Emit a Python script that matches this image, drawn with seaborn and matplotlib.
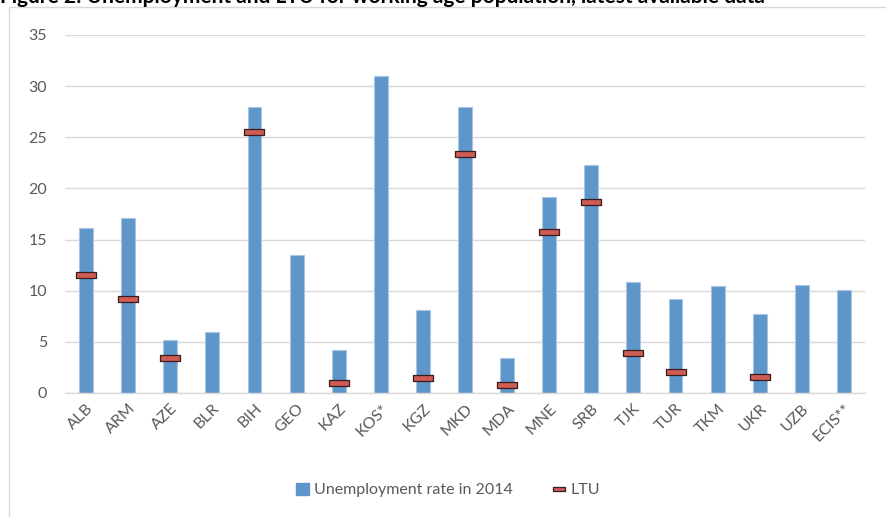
import matplotlib
matplotlib.use("Agg")
import matplotlib.pyplot as plt
import matplotlib.patches as mpatches
from matplotlib.lines import Line2D
import seaborn as sns
import pandas as pd
import numpy as np

# values
countries = ["ALB", "ARM", "AZE", "BLR", "BIH", "GEO", "KAZ", "KOS*", "KGZ", "MKD",
             "MDA", "MNE", "SRB", "TJK", "TUR", "TKM", "UKR", "UZB", "ECIS**"]
unemployment = [16.1, 17.1, 5.2, 6.0, 28.0, 13.5, 4.2, 31.0, 8.1, 28.0,
                3.4, 19.2, 22.3, 10.9, 9.2, 10.5, 7.7, 10.6, 10.1]
ltu = [11.5, 9.2, 3.4, np.nan, 25.5, np.nan, 1.0, np.nan, 1.5, 23.4,
       0.8, 15.7, 18.7, 3.9, 2.1, np.nan, 1.6, np.nan, np.nan]
yticks = [0, 5, 10, 15, 20, 25, 30, 35]

df = pd.DataFrame({"country": countries, "unemp": unemployment, "ltu": ltu})

sns.set_style("white")
plt.rcParams["font.family"] = ["Lato", "DejaVu Sans"]

bar_color = "#5f96c9"
ltu_fill = "#cd5c55"
ltu_edge = "#3a1c1c"
text_color = "#595959"
grid_color = "#d9d9d9"

fig = plt.figure(figsize=(8.86, 5.17), dpi=100)
ax = fig.add_axes([65 / 886, 1 - 393 / 517, 800 / 886, 358 / 517])

# outer chart frame
fig.patches.append(mpatches.Rectangle((9 / 886, -0.1), 1.2, 1 - 7 / 517 + 0.1,
                                      transform=fig.transFigure, fill=False,
                                      edgecolor="#d9d9d9", linewidth=1.0))

# figure title, cut off at the top edge as in the source
fig.text(0.0, 1 - 3 / 517, "Figure 2: Unemployment and LTU for working age population, latest available data",
         ha="left", va="baseline", fontsize=15, fontweight="bold", color="black")

sns.barplot(data=df, x="country", y="unemp", color=bar_color, width=0.33,
            saturation=1, edgecolor="#a8c5e4", linewidth=0.8, ax=ax, zorder=2)

rect = [(-1, -0.28), (1, -0.28), (1, 0.28), (-1, 0.28), (-1, -0.28)]
sns.stripplot(data=df, x="country", y="ltu", jitter=False, marker=rect, s=13.7,
              color=ltu_fill, edgecolor=ltu_edge, linewidth=0.9, ax=ax, zorder=3)

ax.set_ylim(0, 35)
ax.set_xlim(-0.5, len(countries) - 0.5)
ax.set_yticks(yticks)
ax.yaxis.grid(True, color=grid_color, linewidth=1.0)
ax.set_axisbelow(True)
for s in ["top", "right", "left"]:
    ax.spines[s].set_visible(False)
ax.spines["bottom"].set_color(grid_color)
ax.spines["bottom"].set_linewidth(1.0)
ax.set_xlabel("")
ax.set_ylabel("")
ax.tick_params(axis="both", length=0, colors=text_color, labelsize=11.5)
ax.tick_params(axis="y", pad=13)
ax.tick_params(axis="x", pad=6)
plt.setp(ax.get_xticklabels(), rotation=45, ha="right", rotation_mode="anchor")

handles = [
    mpatches.Patch(facecolor=bar_color, edgecolor=bar_color, label="Unemployment rate in 2014"),
    Line2D([], [], linestyle="none", marker=rect, markersize=9, markerfacecolor=ltu_fill,
           markeredgecolor=ltu_edge, markeredgewidth=0.9, label="LTU"),
]
fig.legend(handles=handles, loc="center", bbox_to_anchor=(448 / 886, 1 - 490 / 517), ncol=2,
           frameon=False, fontsize=11.5, labelcolor=text_color, handlelength=0.8,
           handleheight=0.8, handletextpad=0.3, columnspacing=2.5)

fig.savefig("out.png", dpi=100)
